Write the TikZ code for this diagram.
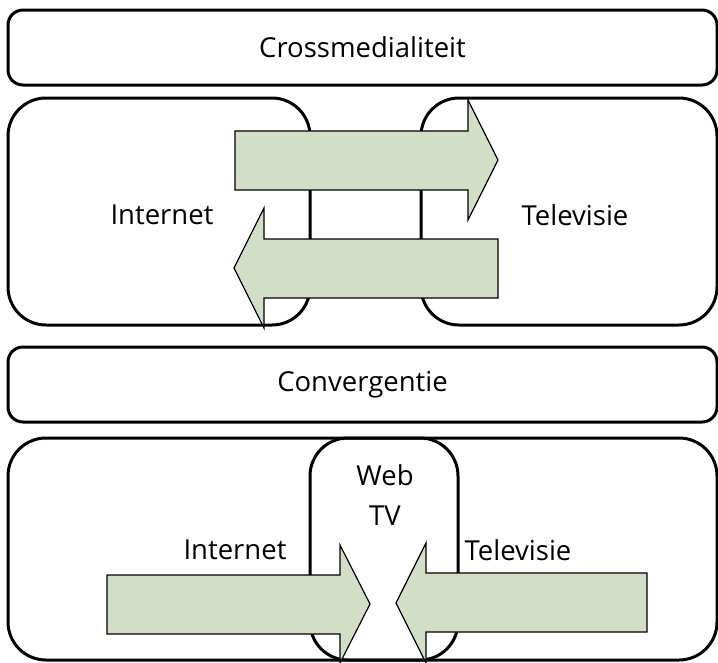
\documentclass[tikz,border=0pt]{standalone}
\usepackage{fontspec}
\setmainfont{Open Sans}
\usepackage{tikz}
\usetikzlibrary{positioning}

\definecolor{flowfill}{RGB}{211,222,199}

\begin{document}
\begin{tikzpicture}[
    x=1pt, y=-1pt,
    bar/.style={rectangle, draw=black, line width=3pt, rounded corners=15pt, minimum width=709pt, minimum height=75pt, inner sep=0pt, font=\fontsize{27.5}{33}\selectfont},
    medium/.style={rectangle, draw=black, line width=3pt, rounded corners=38pt, inner sep=0pt, font=\fontsize{27.5}{33}\selectfont},
    label/.style={inner sep=0pt, align=center, font=\fontsize{27.5}{40}\selectfont},
    flow/.style={draw=black, line width=1.2pt, fill=flowfill, line join=miter}
]
\useasboundingbox (0,0) rectangle (718,662);

% Crossmedialiteit
\node[bar] (cross) at (362.5,47.5) {Crossmedialiteit};
\node[medium, minimum width=302pt, minimum height=227pt] (inet) at (159,211.5) {};
\node[medium, minimum width=296pt, minimum height=227pt] (tv) at (569,211.5) {};
\node[label] (inetlabel) at (162,215) {Internet};
\node[label] (tvlabel) at (575,215) {Televisie};

% Arrows
\draw[flow] (235,131) -- (468,131) -- (468,100) -- (498,160) -- (468,220) -- (468,190) -- (235,190) -- cycle;
\draw[flow] (498,239) -- (264,239) -- (264,208) -- (234,268) -- (264,328) -- (264,298) -- (498,298) -- cycle;

% Convergentie
\node[bar] (conv) at (362.5,384.5) {Convergentie};
\node[medium, minimum width=709pt, minimum height=222pt] (both) at (362.5,549) {};
\node[medium, minimum width=148pt, minimum height=222pt] (webtv) at (384,549) {};
\node[label] (webtvlabel) at (385,495) {Web\\TV};
\node[label] (inetlabel2) at (235,550) {Internet};
\node[label] (tvlabel2) at (518,550) {Televisie};

% Arrows
\draw[flow] (107,575) -- (340,575) -- (340,545) -- (370,604) -- (340,663) -- (340,634) -- (107,634) -- cycle;
\draw[flow] (647,573) -- (426,573) -- (426,543) -- (396,603) -- (426,663) -- (426,632) -- (647,632) -- cycle;

\end{tikzpicture}
\end{document}
